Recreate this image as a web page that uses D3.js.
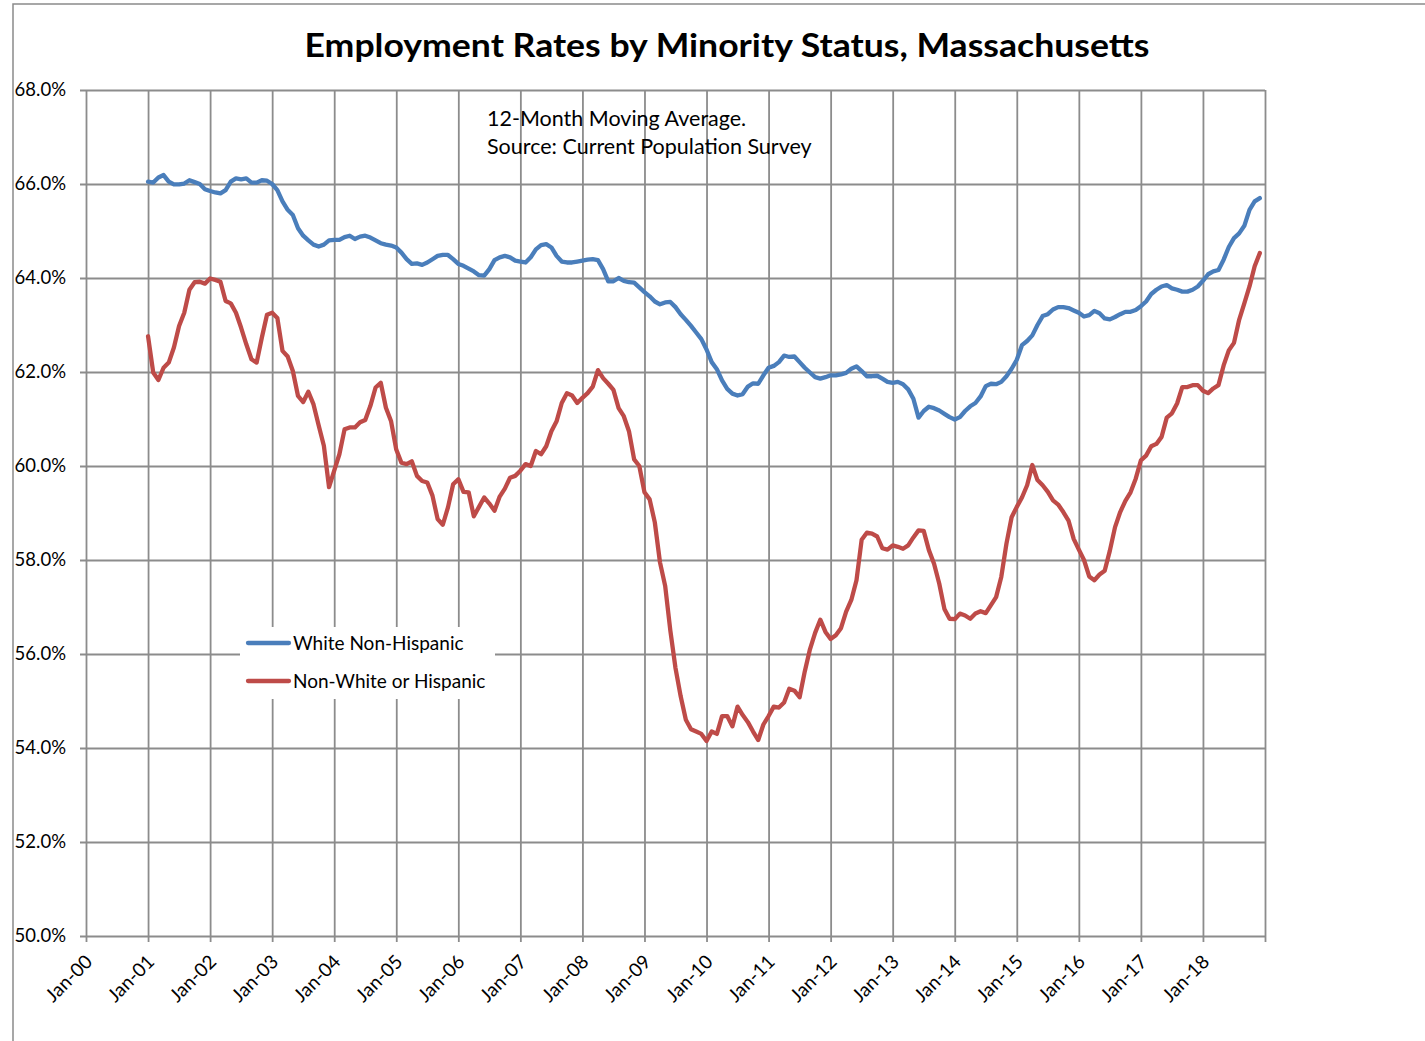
<!DOCTYPE html>
<html>
<head>
<meta charset="utf-8">
<script src="https://cdn.jsdelivr.net/npm/d3@7"></script>
<style>
  html, body { margin: 0; padding: 0; background: #fff; }
  svg { display: block; }
  text { font-family: Lato, "Open Sans", "DejaVu Sans", sans-serif; fill: #000; }
</style>
</head>
<body>
<svg id="chart" width="1425" height="1041"></svg>
<script>
// ---------------- DATA ----------------
const title = "Employment Rates by Minority Status, Massachusetts";
const noteLines = ["12-Month Moving Average.", "Source: Current Population Survey"];
const seriesNames = ["White Non-Hispanic", "Non-White or Hispanic"];
const xTickLabels = ["Jan-00","Jan-01","Jan-02","Jan-03","Jan-04","Jan-05","Jan-06","Jan-07","Jan-08","Jan-09",
                     "Jan-10","Jan-11","Jan-12","Jan-13","Jan-14","Jan-15","Jan-16","Jan-17","Jan-18"];
const yTicks = [50, 52, 54, 56, 58, 60, 62, 64, 66, 68];
const startYear = 2001; // first monthly value = Jan 2001

// White Non-Hispanic, monthly Jan-2001 .. Dec-2018 (%)
const whiteNonHispanic = [
  66.05, 66.03, 66.14, 66.19, 66.05, 65.99, 65.99, 66.01, 66.08, 66.04, 66.00, 65.89,
  65.85, 65.82, 65.80, 65.87, 66.05, 66.12, 66.10, 66.12, 66.03, 66.03, 66.08, 66.07,
  66.00, 65.87, 65.63, 65.45, 65.34, 65.06, 64.90, 64.80, 64.71, 64.67, 64.71, 64.80,
  64.81, 64.81, 64.87, 64.90, 64.83, 64.88, 64.90, 64.86, 64.80, 64.74, 64.71, 64.69,
  64.65, 64.54, 64.40, 64.30, 64.31, 64.28, 64.33, 64.40, 64.47, 64.49, 64.49, 64.40,
  64.30, 64.26, 64.20, 64.14, 64.06, 64.05, 64.19, 64.38, 64.44, 64.47, 64.44, 64.37,
  64.35, 64.33, 64.44, 64.61, 64.70, 64.72, 64.65, 64.47, 64.35, 64.33, 64.33, 64.35,
  64.37, 64.39, 64.40, 64.38, 64.19, 63.93, 63.93, 64.00, 63.94, 63.91, 63.90, 63.80,
  63.70, 63.61, 63.50, 63.44, 63.48, 63.49, 63.38, 63.23, 63.11, 62.98, 62.84, 62.70,
  62.48, 62.21, 62.06, 61.82, 61.64, 61.54, 61.50, 61.53, 61.69, 61.76, 61.75, 61.93,
  62.09, 62.13, 62.21, 62.35, 62.32, 62.33, 62.21, 62.09, 61.99, 61.89, 61.86, 61.89,
  61.93, 61.93, 61.95, 61.98, 62.07, 62.12, 62.02, 61.91, 61.91, 61.92, 61.86, 61.79,
  61.77, 61.79, 61.74, 61.63, 61.43, 61.03, 61.17, 61.26, 61.23, 61.18, 61.11, 61.04,
  60.99, 61.04, 61.17, 61.27, 61.34, 61.48, 61.70, 61.75, 61.74, 61.79, 61.91, 62.07,
  62.26, 62.57, 62.66, 62.78, 63.00, 63.19, 63.23, 63.33, 63.38, 63.38, 63.36, 63.31,
  63.26, 63.18, 63.21, 63.30, 63.25, 63.14, 63.12, 63.17, 63.23, 63.28, 63.28, 63.32,
  63.40, 63.50, 63.66, 63.75, 63.82, 63.85, 63.78, 63.75, 63.71, 63.71, 63.75, 63.82,
  63.94, 64.08, 64.14, 64.17, 64.39, 64.66, 64.85, 64.95, 65.11, 65.45, 65.63, 65.70
];

// Non-White or Hispanic, monthly Jan-2001 .. Dec-2018 (%)
const nonWhiteOrHispanic = [
  62.76, 61.99, 61.83, 62.09, 62.20, 62.52, 62.98, 63.26, 63.75, 63.91, 63.92, 63.88,
  63.99, 63.96, 63.92, 63.51, 63.46, 63.26, 62.94, 62.59, 62.27, 62.20, 62.73, 63.22,
  63.26, 63.15, 62.45, 62.33, 62.02, 61.49, 61.36, 61.58, 61.31, 60.86, 60.43, 59.55,
  59.90, 60.25, 60.78, 60.82, 60.82, 60.93, 60.98, 61.28, 61.67, 61.77, 61.24, 60.95,
  60.35, 60.07, 60.04, 60.10, 59.79, 59.68, 59.65, 59.37, 58.87, 58.75, 59.12, 59.61,
  59.72, 59.45, 59.44, 58.93, 59.13, 59.33, 59.20, 59.05, 59.35, 59.52, 59.75, 59.79,
  59.90, 60.04, 60.00, 60.32, 60.25, 60.42, 60.74, 60.95, 61.34, 61.55, 61.50, 61.34,
  61.45, 61.55, 61.69, 62.04, 61.87, 61.75, 61.62, 61.23, 61.06, 60.74, 60.14, 60.00,
  59.44, 59.29, 58.80, 57.95, 57.45, 56.50, 55.70, 55.10, 54.60, 54.40, 54.35, 54.30,
  54.15, 54.35, 54.30, 54.68, 54.68, 54.46, 54.88, 54.70, 54.55, 54.35, 54.17, 54.50,
  54.68, 54.88, 54.86, 54.97, 55.26, 55.22, 55.08, 55.63, 56.10, 56.45, 56.73, 56.47,
  56.32, 56.40, 56.55, 56.90, 57.15, 57.57, 58.43, 58.58, 58.56, 58.50, 58.25, 58.22,
  58.31, 58.28, 58.24, 58.31, 58.48, 58.63, 58.62, 58.21, 57.92, 57.50, 56.96, 56.75,
  56.74, 56.86, 56.82, 56.75, 56.86, 56.91, 56.87, 57.04, 57.21, 57.64, 58.35, 58.91,
  59.13, 59.33, 59.59, 60.02, 59.70, 59.59, 59.45, 59.27, 59.18, 59.02, 58.84, 58.45,
  58.22, 58.00, 57.65, 57.57, 57.69, 57.77, 58.20, 58.70, 59.02, 59.26, 59.44, 59.73,
  60.12, 60.22, 60.42, 60.47, 60.62, 61.03, 61.12, 61.33, 61.68, 61.68, 61.72, 61.72,
  61.60, 61.55, 61.65, 61.72, 62.14, 62.46, 62.62, 63.11, 63.46, 63.82, 64.25, 64.53
];

const seriesColors = ["#4a7ebb", "#be4b48"];

// ---------------- CHART ----------------
const svg = d3.select("#chart");
const plot = { left: 86, right: 1265, top: 90, bottom: 936 };
const gridColor = "#8c8c8c";

// month index since Jan 2000
const x = d3.scaleLinear().domain([0, 228]).range([plot.left, plot.right]);
const y = d3.scaleLinear().domain([50, 68]).range([plot.bottom, plot.top]);

// outer chart frame
svg.append("rect").attr("x", 13).attr("y", 4).attr("width", 1430).attr("height", 1060)
  .attr("fill", "none").attr("stroke", "#8a8a8a").attr("stroke-width", 1.5);

// title
svg.append("text").attr("x", 727).attr("y", 57).attr("text-anchor", "middle")
  .attr("font-size", 32).attr("font-weight", "bold")
  .attr("textLength", 845).attr("lengthAdjust", "spacingAndGlyphs")
  .text(title);

// Y axis with gridlines
const yAxis = d3.axisLeft(y).tickValues(yTicks)
  .tickSize(-(plot.right - plot.left))
  .tickFormat(d => d3.format(".1f")(d) + "%");
const gy = svg.append("g").attr("transform", `translate(${plot.left},0)`).call(yAxis);
gy.select(".domain").remove();
gy.selectAll(".tick line").attr("stroke", gridColor).attr("stroke-width", 1.8)
  .attr("x1", -6);
gy.selectAll(".tick text").attr("x", -20).attr("font-size", 18.5)
  .attr("font-family", "Lato, 'Open Sans', sans-serif").attr("fill", "#000");

// X axis with gridlines
const xTickVals = xTickLabels.map((d, i) => i * 12).concat([228]);
const xAxis = d3.axisBottom(x).tickValues(xTickVals)
  .tickSize(-(plot.bottom - plot.top))
  .tickFormat((d, i) => xTickLabels[i] || "");
const gx = svg.append("g").attr("transform", `translate(0,${plot.bottom})`).call(xAxis);
gx.select(".domain").remove();
gx.selectAll(".tick line").attr("stroke", gridColor).attr("stroke-width", 1.8)
  .attr("y1", 6);
gx.selectAll(".tick text")
  .attr("font-size", 19).attr("font-family", "Lato, 'Open Sans', sans-serif").attr("fill", "#000")
  .attr("text-anchor", "end").attr("dy", null).attr("y", 0)
  .attr("transform", "translate(7,27) rotate(-45)");

// annotation
noteLines.forEach((t, i) => {
  svg.append("text").attr("x", 487).attr("y", 126 + i * 28).attr("font-size", 21.5).text(t);
});

// series lines
const line = d3.line()
  .x((d, i) => x((startYear - 2000) * 12 + i))
  .y(d => y(d));
[whiteNonHispanic, nonWhiteOrHispanic].forEach((s, k) => {
  svg.append("path").datum(s).attr("d", line)
    .attr("fill", "none").attr("stroke", seriesColors[k]).attr("stroke-width", 4.3)
    .attr("stroke-linejoin", "round").attr("stroke-linecap", "round");
});

// legend
const lg = svg.append("g");
lg.append("rect").attr("x", 240).attr("y", 627).attr("width", 255).attr("height", 72).attr("fill", "#fff");
seriesNames.forEach((name, i) => {
  const yy = 643 + i * 38;
  lg.append("line").attr("x1", 248).attr("x2", 289).attr("y1", yy).attr("y2", yy)
    .attr("stroke", seriesColors[i]).attr("stroke-width", 4.3).attr("stroke-linecap", "round");
  lg.append("text").attr("x", 293).attr("y", yy + 7).attr("font-size", 19).text(name);
});
</script>
</body>
</html>
